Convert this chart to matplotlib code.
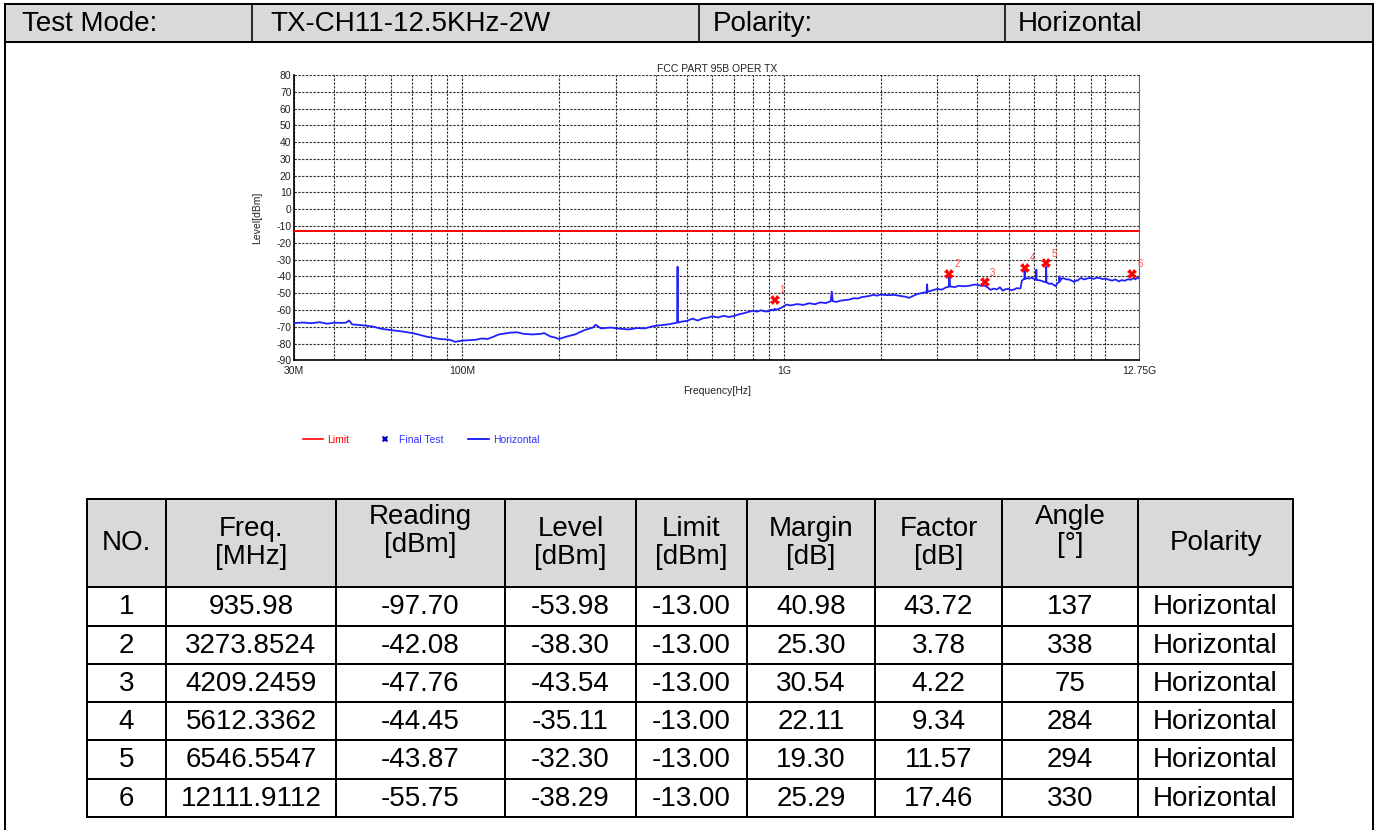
import matplotlib
matplotlib.use("Agg")
import matplotlib.pyplot as plt
from matplotlib.lines import Line2D
from matplotlib.patches import Rectangle
from matplotlib.ticker import FixedLocator, NullFormatter, LogLocator

plt.rcParams['font.family'] = ['Liberation Sans', 'DejaVu Sans']
plt.rcParams['axes.unicode_minus'] = False

# ---------------- data ----------------
test_mode = "TX-CH11-12.5KHz-2W"
polarity_name = "Horizontal"
chart_title = "FCC PART 95B OPER TX"

limit_db = -13.0

trace_mhz = [30, 32, 34, 36, 38, 40, 42, 43.5, 44.5, 45.5, 48, 50, 53, 56, 60, 65, 70, 73, 77, 80,
             85, 90, 93, 95, 100, 105, 110, 115, 120, 125, 130, 140, 148, 155, 165, 175, 180, 188,
             195, 200, 210, 225, 240, 255, 260, 270, 290, 310, 330, 350, 370, 390, 400, 420, 440,
             460, 466, 467.5, 469, 480, 500, 520, 540, 560, 580, 600, 625, 650, 675, 700, 725, 750,
             775, 800, 825, 850, 875, 900, 915, 930, 936, 945, 960, 980, 1000, 1020, 1050, 1100,
             1150, 1200, 1250, 1300, 1350, 1400, 1410, 1420, 1460, 1500, 1550, 1600, 1650, 1700,
             1750, 1800, 1850, 1900, 1950, 2000, 2100, 2200, 2300, 2400, 2450, 2500, 2600, 2700,
             2780, 2790, 2800, 2900, 3000, 3100, 3200, 3260, 3274, 3290, 3400, 3500, 3650, 3800,
             3900, 4000, 4100, 4209, 4300, 4400, 4500, 4600, 4700, 4800, 4900, 5000, 5100, 5200,
             5300, 5400, 5450, 5500, 5560, 5600, 5612, 5625, 5700, 5800, 5900, 6000, 6090, 6100,
             6110, 6200, 6300, 6400, 6530, 6546, 6560, 6700, 6800, 6900, 7000, 7100, 7190, 7200,
             7210, 7300, 7400, 7550, 7700, 7850, 8000, 8100, 8200, 8300, 8400, 8600, 8800, 9000,
             9200, 9400, 9600, 9800, 10000, 10250, 10500, 10750, 11000, 11250, 11500, 11750,
             12000, 12112, 12250, 12400, 12550, 12750]
trace_db = [-67.8, -67.5, -67.9, -67.3, -68.2, -67.6, -67.7, -67.6, -66.3, -68.6, -69.0, -69.3,
            -70.0, -71.2, -72.0, -72.8, -73.8, -74.6, -75.8, -76.4, -77.3, -77.6, -78.2, -79.0,
            -78.3, -78.0, -77.8, -77.0, -77.3, -76.0, -74.6, -73.6, -73.3, -74.2, -74.6, -74.3,
            -73.8, -75.8, -76.5, -77.3, -76.0, -74.5, -72.0, -70.5, -68.8, -71.0, -70.5, -71.2,
            -71.6, -70.8, -71.0, -69.8, -69.4, -69.0, -68.5, -67.8, -67.5, -34.2, -67.5, -67.0,
            -66.5, -65.2, -66.3, -65.0, -64.6, -63.8, -64.5, -63.5, -64.2, -63.6, -62.6, -62.0,
            -61.2, -60.5, -61.0, -60.2, -60.9, -60.8, -59.8, -60.3, -59.3, -59.9, -59.5, -58.8,
            -57.8, -56.8, -57.3, -56.5, -57.0, -56.0, -56.6, -55.5, -55.9, -54.8, -49.0, -54.8,
            -55.2, -54.5, -54.1, -53.8, -53.0, -53.2, -52.3, -52.0, -51.6, -51.0, -51.5, -50.8,
            -51.2, -51.0, -51.6, -52.2, -52.8, -52.0, -50.5, -49.8, -49.4, -44.7, -49.2, -48.3,
            -47.5, -47.9, -46.5, -46.2, -40.5, -46.0, -46.4, -45.6, -45.9, -45.5, -44.9, -45.0,
            -45.6, -45.5, -46.5, -48.0, -47.3, -47.8, -46.5, -48.5, -47.6, -47.5, -48.2, -47.8,
            -47.0, -47.2, -47.0, -42.5, -41.8, -41.5, -36.5, -41.6, -41.0, -41.3, -40.8, -41.5,
            -42.0, -36.0, -42.0, -42.3, -42.5, -43.0, -43.5, -34.3, -43.6, -44.5, -44.2, -45.0,
            -45.8, -44.0, -43.2, -40.0, -43.0, -41.5, -41.0, -41.8, -41.8, -42.5, -43.3, -42.4,
            -42.5, -41.5, -41.0, -41.8, -41.2, -40.9, -41.5, -40.8, -41.0, -41.6, -41.3, -42.0,
            -42.5, -41.8, -43.0, -42.2, -42.6, -41.7, -42.0, -41.5, -41.0, -41.8, -40.8, -41.2]

final_no = [1, 2, 3, 4, 5, 6]
final_freq = ["935.98", "3273.8524", "4209.2459", "5612.3362", "6546.5547", "12111.9112"]
final_reading = [-97.70, -42.08, -47.76, -44.45, -43.87, -55.75]
final_level = [-53.98, -38.30, -43.54, -35.11, -32.30, -38.29]
final_limit = [-13.00, -13.00, -13.00, -13.00, -13.00, -13.00]
final_margin = [40.98, 25.30, 30.54, 22.11, 19.30, 25.29]
final_factor = [43.72, 3.78, 4.22, 9.34, 11.57, 17.46]
final_angle = [137, 338, 75, 284, 294, 330]
final_polarity = ["Horizontal"] * 6

table_headers = ["NO.", "Freq.\n[MHz]", "Reading\n[dBm]", "Level\n[dBm]", "Limit\n[dBm]",
                 "Margin\n[dB]", "Factor\n[dB]", "Angle\n[°]", "Polarity"]

x_tick_hz = [30e6, 100e6, 1e9, 12.75e9]
x_tick_labels = ["30M", "100M", "1G", "12.75G"]
y_ticks = list(range(-90, 81, 10))

# ---------------- figure ----------------
W, H = 1378, 830
fig = plt.figure(figsize=(W / 100, H / 100), dpi=100)
fig.patch.set_facecolor("white")

bg = fig.add_axes([0, 0, 1, 1])
bg.set_xlim(0, W)
bg.set_ylim(H, 0)
bg.axis("off")

px = 72 / 100  # points per pixel
gray = "#d9d9d9"
blw = 2 * px

# header bar
hdr_top, hdr_bot = 4.5, 42.5
bg.add_patch(Rectangle((5, hdr_top), 1368, hdr_bot - hdr_top, facecolor=gray, edgecolor="none"))
bg.plot([5, 1373], [hdr_top, hdr_top], color="black", lw=blw, solid_capstyle="projecting")
bg.plot([5, 1373], [hdr_bot, hdr_bot], color="black", lw=blw)
bg.plot([5, 5], [hdr_top, H], color="black", lw=blw)
bg.plot([1373, 1373], [hdr_top, H], color="black", lw=blw)
for xd in [252, 699, 1004.5]:
    bg.plot([xd, xd], [hdr_top, hdr_bot], color="black", lw=blw * 0.8)
hdr_texts = [("Test Mode:", 22), (test_mode, 270), ("Polarity:", 713), (polarity_name, 1018)]
for t, xx in hdr_texts:
    bg.text(xx, 24, t, fontsize=20, ha="left", va="center", color="black")

# table
col_edges = [87, 166, 336, 505, 636, 747, 875, 1002, 1138, 1293]
row_edges = [498.5, 587, 625.5, 663.5, 701.5, 740, 778.5, 816.5]
bg.add_patch(Rectangle((col_edges[0], row_edges[0]), col_edges[-1] - col_edges[0],
                       row_edges[1] - row_edges[0], facecolor=gray, edgecolor="none"))
for xe in col_edges:
    bg.plot([xe, xe], [row_edges[0], row_edges[-1]], color="black", lw=blw, solid_capstyle="projecting")
for ye in row_edges:
    bg.plot([col_edges[0], col_edges[-1]], [ye, ye], color="black", lw=blw, solid_capstyle="projecting")

hdr_center = (row_edges[0] + row_edges[1]) / 2
for i, h in enumerate(table_headers):
    xc = (col_edges[i] + col_edges[i + 1]) / 2
    yc = hdr_center
    if h.startswith("Reading") or h.startswith("Angle"):
        yc = hdr_center - 12
    bg.text(xc, yc, h, fontsize=20, ha="center", va="center", linespacing=1.1, color="black")

rows = []
for k in range(len(final_no)):
    rows.append([str(final_no[k]), final_freq[k], f"{final_reading[k]:.2f}", f"{final_level[k]:.2f}",
                 f"{final_limit[k]:.2f}", f"{final_margin[k]:.2f}", f"{final_factor[k]:.2f}",
                 str(final_angle[k]), final_polarity[k]])
for r, row in enumerate(rows):
    yc = (row_edges[r + 1] + row_edges[r + 2]) / 2 + 1
    for c, val in enumerate(row):
        xc = (col_edges[c] + col_edges[c + 1]) / 2
        bg.text(xc, yc, val, fontsize=20, ha="center", va="center", color="black")

# ---------------- chart ----------------
ax_l, ax_r, ax_t, ax_b = 294, 1139.3, 75, 360.3
ax = fig.add_axes([ax_l / W, 1 - ax_b / H, (ax_r - ax_l) / W, (ax_b - ax_t) / H])
ax.set_facecolor("white")
ax.set_xscale("log")
ax.set_xlim(30e6, 12.75e9)
ax.set_ylim(-90, 80)

grid_kw = dict(color="#333333", lw=0.8, linestyle=(0, (2.2, 1.2)))
ax.xaxis.set_major_locator(FixedLocator(x_tick_hz))
ax.xaxis.set_minor_locator(LogLocator(base=10, subs=[1, 2, 3, 4, 5, 6, 7, 8, 9], numticks=20))
ax.xaxis.set_minor_formatter(NullFormatter())
ax.set_xticklabels(x_tick_labels)
ax.set_yticks(y_ticks)
ax.grid(True, which="both", axis="x", **grid_kw)
ax.grid(True, which="major", axis="y", **grid_kw)
ax.tick_params(which="both", length=0)
ax.tick_params(axis="y", pad=1.8, labelsize=7.5, labelcolor="#222222")
ax.tick_params(axis="x", pad=4, labelsize=7.5, labelcolor="#222222")
ax.set_axisbelow(True)
for s in ["left", "bottom"]:
    ax.spines[s].set_color("black")
    ax.spines[s].set_linewidth(1.2)
ax.spines["right"].set_color("#666666")
ax.spines["right"].set_linewidth(0.8)
ax.spines["top"].set_visible(False)

trace_hz = [f * 1e6 for f in trace_mhz]
ax.axhline(limit_db, color="#ff0000", lw=1.4, zorder=3)
ax.plot(trace_hz, trace_db, color="#2020ff", lw=1.3, zorder=4)
final_hz = [float(f) * 1e6 for f in final_freq]
ax.plot(final_hz, final_level, linestyle="none", marker="X", markersize=6.5,
        color="#ff0000", markeredgewidth=0, zorder=5)
for n, fx, lv in zip(final_no, final_hz, final_level):
    ax.annotate(str(n), (fx, lv), xytext=(5.5, 7), textcoords="offset points",
                fontsize=7, color="#ff5050", ha="center", va="center", zorder=6,
                annotation_clip=False)

fig.text((ax_l + ax_r) / 2 / W, 1 - 68.5 / H, chart_title, fontsize=7.5,
         ha="center", va="center", color="#222222")
fig.text((ax_l + ax_r) / 2 / W, 1 - 390.5 / H, "Frequency[Hz]", fontsize=7.5,
         ha="center", va="center", color="#222222")
fig.text(257 / W, 1 - 218 / H, "Level[dBm]", fontsize=7.5, rotation=90,
         ha="center", va="center", color="#222222")

handles = [Line2D([], [], color="#ff0000", lw=1.2),
           Line2D([], [], linestyle="none", marker="X", markersize=4.5, color="#0000cc",
                  markeredgewidth=0),
           Line2D([], [], color="#0000ff", lw=1.2)]
leg = fig.legend(handles, ["Limit", "Final Test", "Horizontal"], ncol=3, loc="center left",
                 bbox_to_anchor=(303 / W, 1 - 440 / H), frameon=False, fontsize=7.5,
                 handlelength=1.95, handletextpad=0.4, columnspacing=2.4,
                 borderpad=0, borderaxespad=0)
for t, c in zip(leg.get_texts(), ["#ff0000", "#3030ff", "#3030ff"]):
    t.set_color(c)

fig.savefig("out.png", dpi=100)
